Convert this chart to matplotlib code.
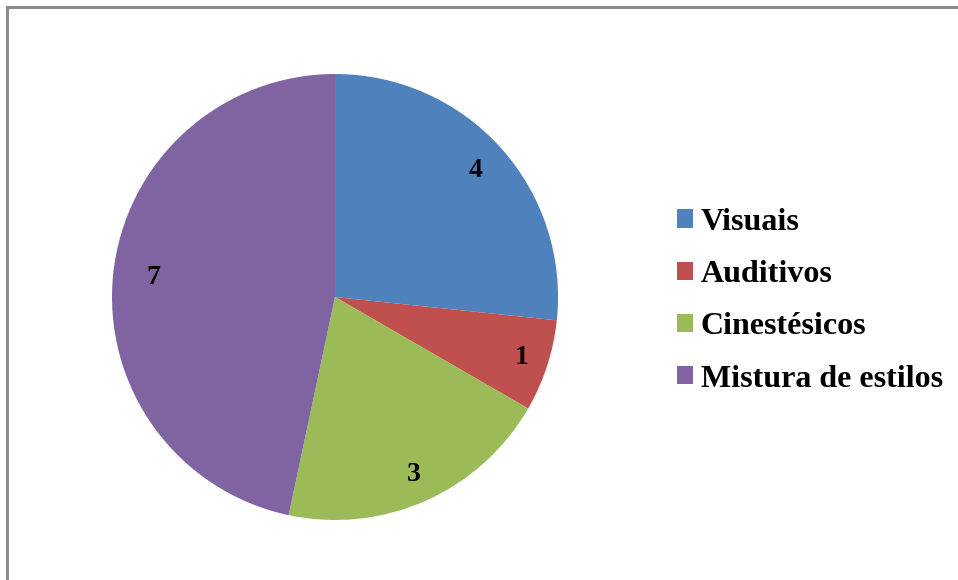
import numpy as np
import matplotlib.pyplot as plt
from matplotlib.patches import Patch, Rectangle

# learning style counts
estilos = ['Visuais', 'Auditivos', 'Cinestésicos', 'Mistura de estilos']
alunos = [4, 1, 3, 7]
cores = ['#4F81BD', '#C0504D', '#9BBB59', '#8064A2']
dist_rotulo = [0.85, 0.88, 0.87, 0.82]

plt.rcParams['font.family'] = ['Liberation Serif', 'DejaVu Serif']

fig = plt.figure(figsize=(9.58, 5.8), dpi=100)

# gray frame around the chart area
fig.patches.append(Rectangle((7 / 958, -0.05), 1.1, 1 - 7 / 580 + 0.05,
                             transform=fig.transFigure, fill=False,
                             edgecolor='#8c8c8c', linewidth=2.2))

ax = fig.add_axes([0.1169, 0.1034, 0.4656, 0.769])
wedges, texts = ax.pie(alunos, colors=cores, startangle=90, counterclock=False, radius=1.0)

# value labels inside each slice
for w, n, d in zip(wedges, alunos, dist_rotulo):
    ang = np.deg2rad((w.theta1 + w.theta2) / 2)
    ax.text(d * np.cos(ang), d * np.sin(ang), str(n), ha='center', va='center',
            fontsize=20, fontweight='bold', color='black')

ax.set_aspect('equal')
ax.set_xlim(-1, 1)
ax.set_ylim(-1, 1)

handles = [Patch(facecolor=c, edgecolor='none') for c in cores]
fig.legend(handles, estilos, loc='upper left', bbox_to_anchor=(648 / 958, 1 - 179 / 580),
           frameon=False, prop={'size': 23, 'weight': 'bold'},
           handlelength=0.5, handleheight=0.5, handletextpad=0.25, labelspacing=0.73)

plt.savefig('out.png', dpi=100)
